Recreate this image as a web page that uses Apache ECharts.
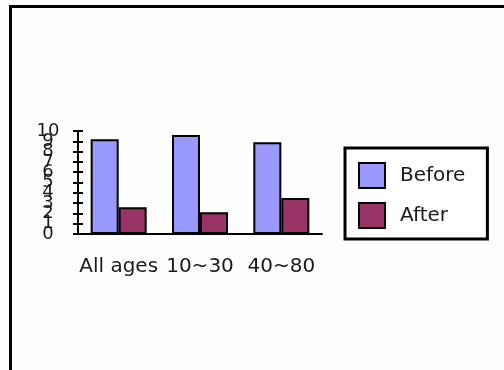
<!DOCTYPE html>
<html>
<head>
<meta charset="utf-8">
<script src="https://cdn.jsdelivr.net/npm/echarts@6/dist/echarts.min.js"></script>
<style>
  html, body { margin: 0; padding: 0; background: #fefefe; }
  #chart { width: 504px; height: 370px; }
</style>
</head>
<body>
<div id="chart"></div>
<script>
// Age groups on the horizontal axis
const categories = ['All ages', '10~30', '40~80'];
// Scores before and after, per age group
const beforeValues = [9.2, 9.6, 8.9];
const afterValues = [2.6, 2.1, 3.5];
// Value axis ticks 0..10
const yTicks = [0, 1, 2, 3, 4, 5, 6, 7, 8, 9, 10];

const FONT = '"DejaVu Sans", sans-serif';
const chart = echarts.init(document.getElementById('chart'), null, { renderer: 'canvas' });

const yMin = yTicks[0];
const yMax = yTicks[yTicks.length - 1];

// Tick labels are split across two stacked axes (even / odd) so that the
// tightly packed labels are all kept instead of being thinned out.
const yLabelStyle = {
  fontFamily: FONT, fontSize: 18, color: '#1a1a1a', margin: 30, align: 'center',
  showMinLabel: true, showMaxLabel: true, hideOverlap: false
};

chart.setOption({
  animation: false,
  backgroundColor: '#fefefe',
  textStyle: { fontFamily: FONT },
  graphic: [{
    type: 'rect',
    shape: { x: 10.5, y: 6.5, width: 600, height: 500 },
    style: { fill: 'none', stroke: '#000', lineWidth: 3 },
    silent: true
  }],
  grid: { left: 78, top: 131, width: 244, height: 103 },
  legend: {
    orient: 'vertical',
    left: 345,
    top: 148,
    padding: [14, 22, 10, 13],
    itemGap: 13,
    itemWidth: 26,
    itemHeight: 25,
    icon: 'rect',
    borderColor: '#000',
    borderWidth: 3,
    backgroundColor: '#fff',
    textStyle: { fontFamily: FONT, fontSize: 20, color: '#1a1a1a', padding: [0, 0, 0, 10] },
    data: ['Before', 'After']
  },
  xAxis: {
    type: 'category',
    data: categories,
    axisLine: { lineStyle: { color: '#000', width: 2 } },
    axisTick: { show: false },
    axisLabel: { fontFamily: FONT, fontSize: 20, color: '#1a1a1a', margin: 23, interval: 0, hideOverlap: false }
  },
  yAxis: [{
    type: 'value',
    min: yMin,
    max: yMax,
    interval: 1,
    axisLine: { show: true, lineStyle: { color: '#000', width: 2 } },
    axisTick: { show: true, length: 5, lineStyle: { color: '#000', width: 2 } },
    splitLine: { show: false },
    axisLabel: Object.assign({}, yLabelStyle, {
      formatter: v => (yTicks.indexOf(v) % 2 === 0 ? String(v) : '')
    })
  }, {
    type: 'value',
    position: 'left',
    min: yMin,
    max: yMax,
    interval: 1,
    axisLine: { show: false },
    axisTick: { show: true, inside: true, length: 5, lineStyle: { color: '#000', width: 2 } },
    splitLine: { show: false },
    axisLabel: Object.assign({}, yLabelStyle, {
      formatter: v => (yTicks.indexOf(v) % 2 === 1 ? String(v) : '')
    })
  }],
  series: [{
    name: 'Before',
    type: 'bar',
    data: beforeValues,
    barWidth: 28,
    barGap: '0%',
    itemStyle: { color: '#9999ff', borderColor: '#000', borderWidth: 2 }
  }, {
    name: 'After',
    type: 'bar',
    data: afterValues,
    barWidth: 28,
    barGap: '0%',
    itemStyle: { color: '#993366', borderColor: '#000', borderWidth: 2 }
  }]
});
</script>
</body>
</html>
